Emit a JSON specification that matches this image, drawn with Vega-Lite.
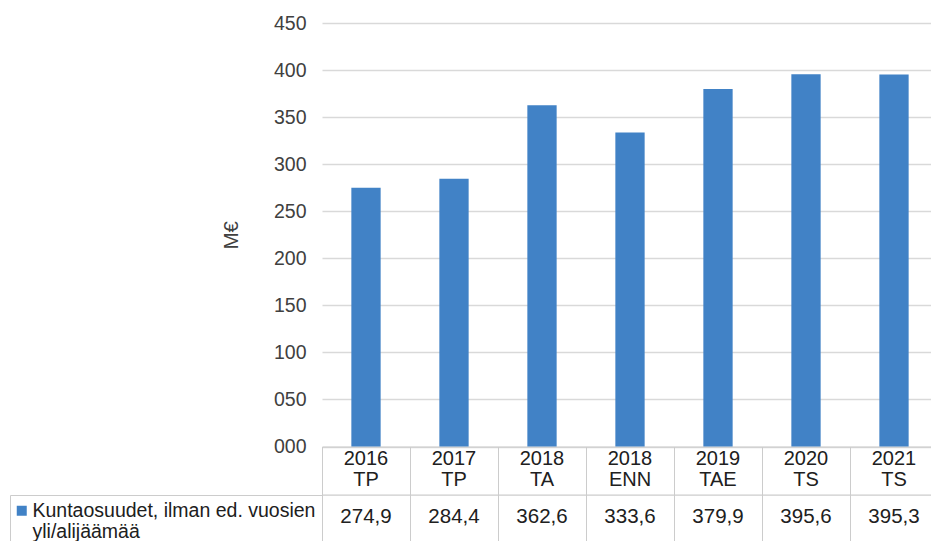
{
  "$schema": "https://vega.github.io/schema/vega-lite/v6.json",
  "width": 609,
  "height": 423.5,
  "autosize": {"type": "none"},
  "padding": {"left": 322, "top": 23, "right": 0, "bottom": 94.5},
  "background": "white",
  "config": {
    "view": {"stroke": null},
    "font": "Liberation Sans",
    "locale": {"number": {"decimal": ",", "thousands": " ", "grouping": [3], "currency": ["", " €"]}}
  },
  "data": {
    "values": [
      {"period": "2016 TP", "value": 274.9},
      {"period": "2017 TP", "value": 284.4},
      {"period": "2018 TA", "value": 362.6},
      {"period": "2018 ENN", "value": 333.6},
      {"period": "2019 TAE", "value": 379.9},
      {"period": "2020 TS", "value": 395.6},
      {"period": "2021 TS", "value": 395.3}
    ]
  },
  "resolve": {"axis": {"x": "independent"}},
  "layer": [
    {
      "mark": {"type": "bar", "width": {"band": 0.333}},
      "encoding": {
        "x": {
          "field": "period", "type": "nominal", "sort": null,
          "scale": {"range": [0, 616], "paddingInner": 0, "paddingOuter": 0},
          "axis": {
            "orient": "bottom",
            "title": null, "labels": false, "ticks": true, "tickSize": 94.5,
            "bandPosition": 0, "tickColor": "#cccccc", "domain": true,
            "domainColor": "#cccccc", "grid": false
          }
        },
        "y": {
          "field": "value", "type": "quantitative",
          "scale": {"domain": [0, 450]},
          "axis": {
            "title": "M€", "values": [0, 50, 100, 150, 200, 250, 300, 350, 400, 450],
            "format": "03d", "grid": true, "gridColor": "#d9d9d9", "gridWidth": 1.3,
            "domain": false, "ticks": false, "labelPadding": 16,
            "labelFontSize": 19.5, "labelColor": "#404040",
            "titleFontSize": 20.5, "titleFontWeight": "normal", "titleColor": "#404040",
            "titlePadding": 32
          }
        },
        "color": {
          "datum": "Kuntaosuudet, ilman ed. vuosien yli/alijäämää",
          "type": "nominal",
          "scale": {"range": ["#4182C6"]},
          "legend": {
            "orient": "none", "legendX": -312, "legendY": 472,
            "title": null, "padding": 6, "strokeColor": "#cccccc",
            "symbolType": "square", "symbolSize": 100, "symbolStrokeWidth": 0,
            "symbolOffset": -4,
            "labelExpr": "['Kuntaosuudet, ilman ed. vuosien', 'yli/alijäämää']",
            "labelFontSize": 19.5, "labelColor": "#202020", "labelLimit": 400,
            "labelOffset": 1, "labelLineHeight": 21
          }
        }
      }
    },
    {
      "mark": {"type": "text", "fontSize": 20.5, "color": "#202020", "baseline": "middle"},
      "encoding": {
        "x": {
          "field": "period", "type": "nominal", "sort": null,
          "axis": {
            "orient": "bottom",
            "title": null, "ticks": false, "tickSize": 0, "domain": false,
            "labelExpr": "split(datum.label, ' ')", "labelFontSize": 20,
            "labelColor": "#202020", "labelPadding": 2, "labelBaseline": "top",
            "labelLineHeight": 21, "labelAngle": 0
          }
        },
        "y": {"datum": -74.9, "scale": {"domain": [0, 450]}},
        "text": {"field": "value", "type": "quantitative", "format": ".1f"}
      }
    },
    {
      "data": {"values": [{}]},
      "mark": {"type": "rule", "color": "#cccccc", "strokeWidth": 1.3},
      "encoding": {
        "y": {"datum": -51.6, "scale": {"domain": [0, 450]}}
      }
    }
  ]
}
